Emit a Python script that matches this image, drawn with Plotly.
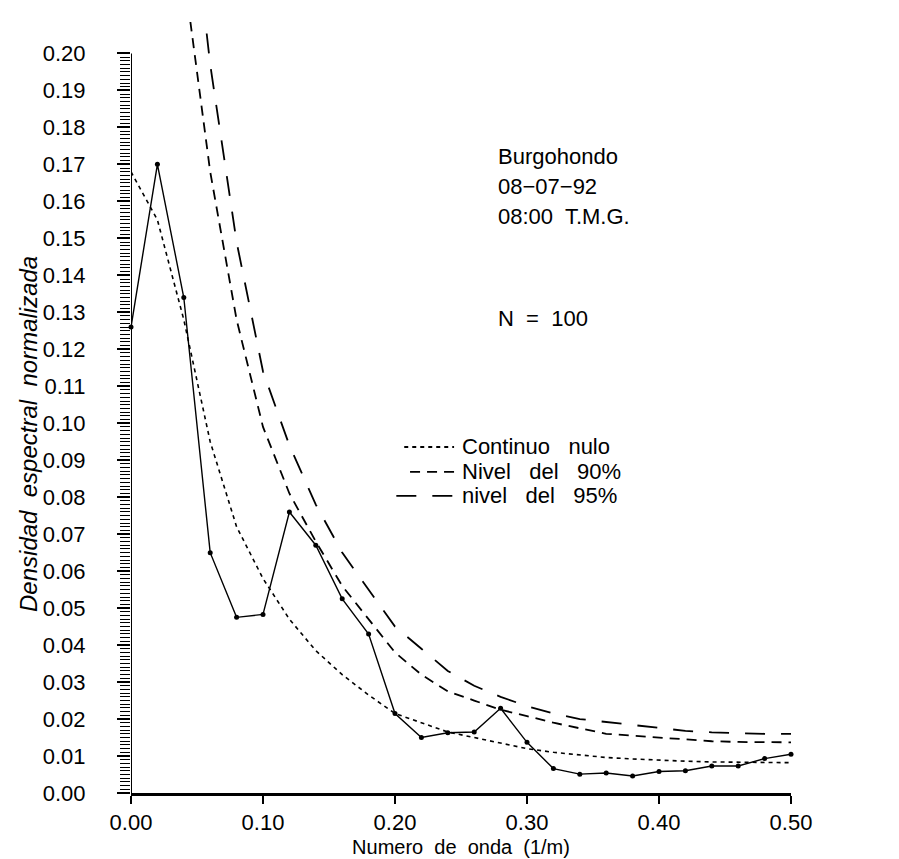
import plotly.graph_objects as go

# Wave number grid (1/m)
wavenumber = [0.00, 0.02, 0.04, 0.06, 0.08, 0.10, 0.12, 0.14, 0.16, 0.18, 0.20, 0.22, 0.24,
              0.26, 0.28, 0.30, 0.32, 0.34, 0.36, 0.38, 0.40, 0.42, 0.44, 0.46, 0.48, 0.50]

# Observed normalized spectral density
density = [0.126, 0.170, 0.134, 0.065, 0.0475, 0.0483, 0.076, 0.067, 0.0525, 0.043, 0.0215, 0.015,
           0.0163, 0.0165, 0.0229, 0.0137, 0.0066, 0.0051, 0.0054, 0.0046, 0.0058, 0.0060, 0.0073,
           0.0073, 0.0093, 0.0105]

# Null continuum (red noise)
continuum = [0.168, 0.155, 0.128, 0.095, 0.072, 0.058, 0.047, 0.0385, 0.032, 0.0265, 0.0215, 0.019,
             0.0165, 0.015, 0.0135, 0.012, 0.011, 0.0102, 0.0096, 0.0092, 0.0088, 0.0086, 0.0084,
             0.0083, 0.0082, 0.0082]

# 90 % confidence level
level90 = [0.285, 0.262, 0.222, 0.168, 0.128, 0.099, 0.081, 0.068, 0.056, 0.047, 0.038, 0.032,
           0.0275, 0.025, 0.0225, 0.0208, 0.019, 0.0175, 0.016, 0.0155, 0.015, 0.0145, 0.014,
           0.0138, 0.0137, 0.0137]

# 95 % confidence level
level95 = [0.32, 0.30, 0.26, 0.197, 0.149, 0.114, 0.094, 0.078, 0.065, 0.055, 0.045, 0.039,
           0.033, 0.029, 0.026, 0.0235, 0.0215, 0.020, 0.0192, 0.0182, 0.0175, 0.0168, 0.0164,
           0.0161, 0.016, 0.016]

y_ticks = [i / 100 for i in range(0, 21)]
y_ticklabels = [f"{v:.2f}" for v in y_ticks]
x_ticks = [0.0, 0.1, 0.2, 0.3, 0.4, 0.5]
x_ticklabels = [f"{v:.2f}" for v in x_ticks]

legend_labels = ["Continuo   nulo", "Nivel   del   90%", "nivel   del   95%"]
header_lines = ["Burgohondo", "08−07−92", "08:00  T.M.G."]
n_label = "N  =  100"

FONT = "Liberation Sans"
DOT = "4px,4px"
SHORT = "10px,7px"
LONG = "20px,16px"

fig = go.Figure()

fig.add_trace(go.Scatter(
    x=wavenumber, y=continuum, mode="lines", name=legend_labels[0],
    line=dict(color="black", width=1.6, dash=DOT), showlegend=False))
fig.add_trace(go.Scatter(
    x=wavenumber, y=level90, mode="lines", name=legend_labels[1],
    line=dict(color="black", width=1.8, dash=SHORT), showlegend=False))
fig.add_trace(go.Scatter(
    x=wavenumber, y=level95, mode="lines", name=legend_labels[2],
    line=dict(color="black", width=1.8, dash=LONG), showlegend=False))
fig.add_trace(go.Scatter(
    x=wavenumber, y=density, mode="lines+markers", name="Densidad",
    line=dict(color="black", width=1.4),
    marker=dict(color="black", size=5, symbol="circle"),
    cliponaxis=False, showlegend=False))

# y-axis line only up to 0.20
fig.add_shape(type="line", xref="x", yref="y", x0=0, x1=0, y0=0, y1=0.20,
              line=dict(color="black", width=2))

# hand-drawn legend (sample lines + labels), paper coordinates
legend_rows_y = [0.4488, 0.4165, 0.3854]
legend_x0 = [0.414, 0.4228, 0.402]
legend_dash = [DOT, SHORT, LONG]
annotations = []
for lab, yy, x0, dsh in zip(legend_labels, legend_rows_y, legend_x0, legend_dash):
    fig.add_shape(type="line", xref="paper", yref="paper", x0=x0, x1=0.4895, y0=yy, y1=yy,
                  line=dict(color="black", width=1.8, dash=dsh))
    annotations.append(dict(text=lab, xref="paper", yref="paper", x=0.499, y=yy,
                            xanchor="left", yanchor="middle", showarrow=False,
                            font=dict(size=22, family=FONT)))

for txt, yy in zip(header_lines, [0.8256, 0.7868, 0.748]):
    annotations.append(dict(text=txt, xref="paper", yref="paper", x=0.553, y=yy,
                            xanchor="left", yanchor="middle", showarrow=False,
                            font=dict(size=22, family=FONT)))
annotations.append(dict(text=n_label, xref="paper", yref="paper", x=0.553, y=0.6157,
                        xanchor="left", yanchor="middle", showarrow=False,
                        font=dict(size=22, family=FONT)))
annotations.append(dict(text="Densidad  espectral  normalizada", textangle=-90,
                        xref="paper", yref="paper", x=-0.1545, y=0.4657,
                        xanchor="center", yanchor="middle", showarrow=False,
                        font=dict(size=24, family=FONT, style="italic")))

fig.update_layout(
    width=899, height=859,
    margin=dict(l=123, r=116, t=14, b=72),
    paper_bgcolor="white", plot_bgcolor="white",
    font=dict(family=FONT, color="black", size=20),
    showlegend=False,
    xaxis=dict(range=[0, 0.5], tickvals=x_ticks, ticktext=x_ticklabels,
               showgrid=False, zeroline=False, showline=True, linecolor="black",
               linewidth=2.5, ticks="outside", ticklen=8, tickwidth=1.5,
               tickcolor="black", tickfont=dict(size=22, family=FONT),
               title=dict(text="Numero  de  onda  (1/m)", font=dict(size=20, family=FONT),
                          standoff=6)),
    yaxis=dict(range=[0, 0.2085], tickvals=y_ticks, ticktext=y_ticklabels,
               showgrid=False, zeroline=False, showline=False,
               ticks="outside", ticklen=13, tickwidth=1.5, tickcolor="black",
               tickfont=dict(size=22, family=FONT), ticklabelstandoff=27,
               minor=dict(tickvals=[i / 1000 for i in range(0, 201)], ticks="outside",
                          ticklen=10, tickwidth=1.2, tickcolor="black", showgrid=False)),
    annotations=annotations,
)

fig.write_html("out.html")
